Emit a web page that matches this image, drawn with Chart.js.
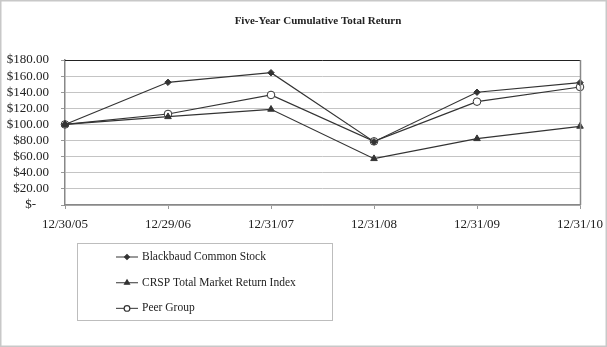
<!DOCTYPE html>
<html>
<head>
<meta charset="utf-8">
<script src="https://cdn.jsdelivr.net/npm/chart.js@4/dist/chart.umd.min.js"></script>
<style>
  html, body { margin: 0; padding: 0; background: #fff; }
  #wrap { width: 607px; height: 347px; }
</style>
</head>
<body>
<div id="wrap"><canvas id="chart" width="607" height="347"></canvas></div>
<script>
const dates = ["12/30/05", "12/29/06", "12/31/07", "12/31/08", "12/31/09", "12/31/10"];
const blackbaud = [100, 152.3, 164.2, 78.6, 140.0, 151.9];
const crsp = [100, 109.6, 118.8, 57.5, 82.3, 97.7];
const peerGroup = [100, 113.0, 136.6, 79.0, 128.3, 146.5];

const chartTitle = "Five-Year Cumulative Total Return";
const serif = "'Liberation Serif', 'Times New Roman', serif";
const ink = "#333";

// frame, title and the boxed legend under the axis
const decor = {
  id: "decor",
  afterDraw(chart) {
    const { ctx, chartArea: a } = chart;
    ctx.save();
    // outer frame
    ctx.strokeStyle = "#c8c8c8";
    ctx.lineWidth = 1.5;
    ctx.strokeRect(0.75, 0.75, chart.width - 1.5, chart.height - 1.5);

    // plot top + right edges
    ctx.lineWidth = 1;
    ctx.strokeStyle = "#222";
    ctx.beginPath();
    ctx.moveTo(a.left, a.top + 0.5);
    ctx.lineTo(a.right, a.top + 0.5);
    ctx.stroke();
    ctx.strokeStyle = "#888";
    ctx.lineWidth = 1.5;
    ctx.beginPath();
    ctx.moveTo(a.right + 0.5, a.top);
    ctx.lineTo(a.right + 0.5, a.bottom);
    ctx.stroke();

    // title
    ctx.fillStyle = "#222";
    ctx.font = "bold 11px " + serif;
    ctx.textAlign = "center";
    ctx.textBaseline = "middle";
    ctx.fillText(chartTitle, 318, 21);

    // legend box
    const bx = 77, by = 243, bw = 255, bh = 77;
    ctx.strokeStyle = "#bdbdbd";
    ctx.lineWidth = 1;
    ctx.strokeRect(bx + 0.5, by + 0.5, bw, bh);
    ctx.textAlign = "left";
    ctx.font = "11.5px " + serif;
    chart.data.datasets.forEach((ds, i) => {
      const y = 257 + i * 25.7;
      ctx.strokeStyle = "#555";
      ctx.lineWidth = 1.2;
      ctx.beginPath();
      ctx.moveTo(116, y);
      ctx.lineTo(138, y);
      ctx.stroke();
      ctx.fillStyle = ds.pointBackgroundColor;
      ctx.strokeStyle = ink;
      Chart.helpers.drawPoint(ctx, {
        pointStyle: ds.pointStyle,
        radius: ds.pointRadius * 0.75,
        borderWidth: 1
      }, 127, y);
      ctx.fillStyle = "#222";
      ctx.fillText(ds.label, 142, y);
    });
    ctx.restore();
  }
};

function series(label, data, style, radius, fill) {
  return {
    label, data,
    borderColor: ink,
    borderWidth: 1.2,
    pointStyle: style,
    pointRadius: radius,
    pointBackgroundColor: fill,
    pointBorderColor: ink,
    pointBorderWidth: 1,
    tension: 0
  };
}

new Chart(document.getElementById("chart"), {
  type: "line",
  data: {
    labels: dates,
    datasets: [
      series("Blackbaud Common Stock", blackbaud, "rectRot", 3.2, ink),
      series("CRSP Total Market Return Index", crsp, "triangle", 3.8, ink),
      series("Peer Group", peerGroup, "circle", 3.8, "#fff")
    ]
  },
  options: {
    responsive: false,
    animation: false,
    events: [],
    layout: { padding: { left: 0, right: 0, top: 60, bottom: 112 } },
    plugins: {
      legend: { display: false },
      title: { display: false },
      tooltip: { enabled: false }
    },
    scales: {
      x: {
        offset: false,
        afterFit(s) { s.height = 30; s.paddingRight = 27; },
        grid: { drawOnChartArea: false, drawTicks: true, tickLength: 4, tickColor: "#999" },
        border: { color: "#888", width: 1.5 },
        ticks: {
          color: "#222",
          font: { family: serif, size: 13 },
          padding: 8,
          maxRotation: 0,
          autoSkip: false
        }
      },
      y: {
        min: 0,
        max: 180,
        afterFit(s) { s.width = 65; },
        grid: { color: "#c4c4c4", lineWidth: 1, tickLength: 4, tickColor: "#999" },
        border: { color: "#888", width: 1.5 },
        ticks: {
          stepSize: 20,
          autoSkip: false,
          color: "#222",
          font: { family: serif, size: 13 },
          padding: 12,
          callback: v => v === 0 ? "$-    " : "$" + v.toFixed(2)
        }
      }
    }
  },
  plugins: [decor]
});
</script>
</body>
</html>
